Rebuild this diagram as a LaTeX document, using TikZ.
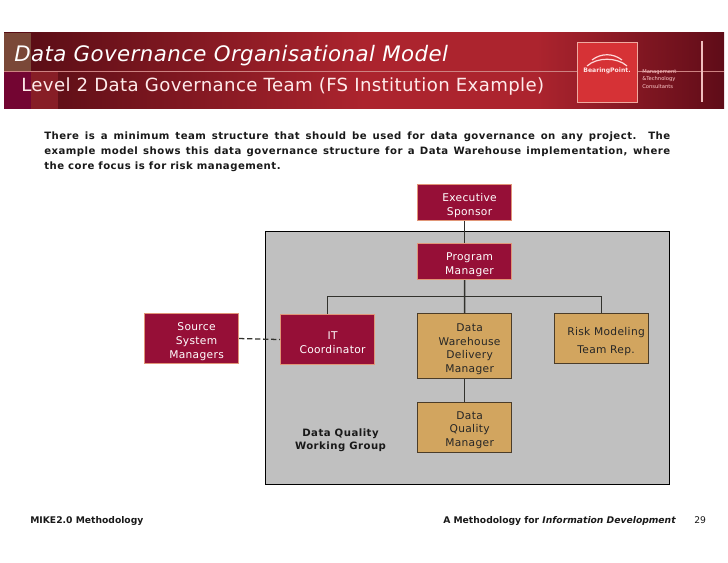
\documentclass[tikz,border=0pt]{standalone}
\usepackage{fontspec}
\setmainfont{DejaVu Sans}
\newfontfamily\boxfont[LetterSpace=3]{DejaVu Sans}
\newfontfamily\titlefont[LetterSpace=2]{DejaVu Sans}
\newfontfamily\bodyfont[LetterSpace=4.7]{DejaVu Sans}
\usetikzlibrary{calc}
\definecolor{wine}{RGB}{150,15,55}
\definecolor{winedge}{RGB}{225,150,120}
\definecolor{tan}{RGB}{210,165,95}
\definecolor{tanedge}{RGB}{75,60,40}
\definecolor{panel}{RGB}{192,192,192}
\definecolor{linecol}{RGB}{50,50,45}
\definecolor{hdrleft}{RGB}{85,12,20}
\definecolor{hdrmid}{RGB}{172,36,46}
\definecolor{hdrright}{RGB}{95,12,24}
\definecolor{hdrbrown}{RGB}{122,72,56}
\definecolor{hdrplum}{RGB}{115,5,50}
\definecolor{hdrred}{RGB}{135,30,38}
\definecolor{hdrline}{RGB}{205,130,130}
\definecolor{hdrbar}{RGB}{240,190,190}
\definecolor{logoedge}{RGB}{240,170,160}
\definecolor{logofill}{RGB}{214,50,54}
\pgfdeclarehorizontalshading{hdrshade}{100bp}{
  color(0bp)=(hdrleft); color(25bp)=(hdrleft); color(50bp)=(hdrmid); color(62bp)=(hdrmid); color(75bp)=(hdrright); color(100bp)=(hdrright)}
\newlength{\pxu}\setlength{\pxu}{0.75pt}
\newcommand{\shl}[2]{\hspace*{#1\pxu}#2}
\newcommand{\topfix}{\rule{0pt}{10.5pt}}
\tikzset{
  x=0.75pt,y=-0.75pt,
  boxbase/.style={inner sep=0pt,align=center,font=\boxfont\fontsize{8}{10.4}\selectfont,anchor=north west},
  redbox/.style={boxbase,draw=winedge,fill=wine,text=white,line width=0.8pt},
  tanbox/.style={boxbase,draw=tanedge,fill=tan,text=black!85,line width=0.9pt},
  conn/.style={draw=linecol,line width=0.95pt},
  boldtext/.style={inner sep=0pt,font=\bodyfont\bfseries\fontsize{7.6}{9.8}\selectfont,text=black!90},
  foottext/.style={inner sep=0pt,anchor=base west,font=\bfseries\fontsize{6.9}{9}\selectfont,text=black!90},
}
\begin{document}
\begin{tikzpicture}
\useasboundingbox (0,0) rectangle (728,563);
% header
\shade[shading=hdrshade] (4,33) rectangle (724,109);
\fill[hdrbrown] (4,33) rectangle (31,71);
\fill[hdrplum] (4,71) rectangle (31,109);
\fill[hdrred] (31,71) rectangle (58,109);
\draw[hdrline,line width=0.6pt] (4,71) -- (724,71);
\fill[hdrbar] (701,41) rectangle (703,102);
\node[draw=logoedge,fill=logofill,line width=1pt,minimum width=60\pxu,minimum height=60\pxu,inner sep=0pt,anchor=north west] (logo) at (577,42) {};
\draw[white!85!red,line width=0.9pt] (587,66) .. controls (597,57) and (617,57) .. (627,66);
\draw[white!85!red,line width=0.9pt] (592,60) .. controls (601,53) and (613,53) .. (622,60);
\node[inner sep=0pt,text=white!90!red,font=\bfseries\fontsize{4.6}{5}\selectfont] (brand) at (607,71) {BearingPoint.};
\node[inner sep=0pt,anchor=west,align=left,text=white!80!red,font=\fontsize{3.9}{5.4}\selectfont] (tag) at (642,79) {Management\\\&Technology\\Consultants};
\node[inner sep=0pt,anchor=base west,text=white,font=\titlefont\itshape\fontsize{16}{18}\selectfont] (title) at (14,62) {Data Governance Organisational Model};
\node[inner sep=0pt,anchor=base west,text=white!92!red,font=\titlefont\fontsize{13.6}{16}\selectfont] (subtitle) at (21,92) {Level 2 Data Governance Team (FS Institution Example)};
% intro
\node[inner sep=0pt,anchor=north west,text width=626\pxu,align=justify,font=\bodyfont\bfseries\fontsize{7.6}{10.9}\selectfont,text=black!90] (intro) at (44,132) {There is a minimum team structure that should be used for data governance on any project.\ \ The\linebreak example model shows this data governance structure for a Data Warehouse implementation, where\linebreak the core focus is for risk management.\par};
% panel
\node[draw=black,fill=panel,line width=0.8pt,inner sep=0pt,minimum width=404\pxu,minimum height=253\pxu,anchor=north west] (panelbox) at (265,231) {};
% boxes
\node[redbox,minimum width=94\pxu,minimum height=36\pxu] (exec) at (417,184) {\topfix\shl{10}{Executive}\\\shl{10}{Sponsor}};
\node[redbox,minimum width=94\pxu,minimum height=36\pxu] (prog) at (417,243) {\topfix\shl{10}{Program}\\\shl{10}{Manager}};
\node[redbox,minimum width=94\pxu,minimum height=50\pxu] (src) at (144,313) {\topfix\shl{10}{Source}\\\shl{10}{System}\\\shl{10}{Managers}};
\node[redbox,minimum width=94\pxu,minimum height=50\pxu] (it) at (280,314) {\topfix\shl{10}{IT}\\\shl{10}{Coordinator}};
\node[tanbox,minimum width=94\pxu,minimum height=65\pxu] (dw) at (417,313) {\topfix\shl{10}{Data}\\\shl{10}{Warehouse}\\\shl{10}{Delivery}\\\shl{10}{Manager}};
\node[tanbox,minimum width=94\pxu,minimum height=50\pxu] (dq) at (417,401.5) {\topfix\shl{10}{Data}\\\shl{10}{Quality}\\\shl{10}{Manager}};
\node[tanbox,minimum width=94\pxu,minimum height=50\pxu,font=\boxfont\fontsize{8}{12.8}\selectfont] (risk) at (554,313) {\topfix\shl{9}{Risk Modeling}\\\shl{9}{Team Rep.}};
\node[boldtext,align=center] (wg) at (340.5,440) {Data Quality\\Working Group};
% connectors
\coordinate (bus) at (464,296.5);
\draw[conn] (exec) -- (prog);
\draw[conn,line width=1.2pt] (prog) -- (dw);
\draw[conn] (it.north) |- (bus) -| (risk.north);
\draw[conn] (dw) -- (dq);
\draw[conn,dash pattern=on 4pt off 2pt] (src.east) -- (it.west);
% footer
\node[foottext] (f1) at (30,523.5) {MIKE2.0 Methodology};
\node[foottext] (f2) at (443,523.5) {A Methodology for \textit{Information Development}};
\node[foottext,font=\fontsize{6.9}{9}\selectfont] (f3) at (694,523.5) {29};
\end{tikzpicture}
\end{document}
